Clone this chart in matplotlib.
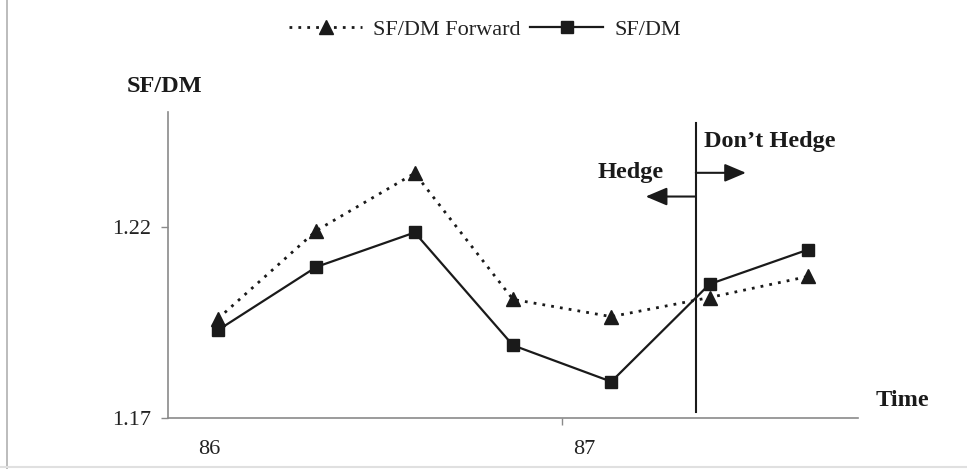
import matplotlib
matplotlib.use("Agg")
import matplotlib.pyplot as plt
from matplotlib.lines import Line2D
import numpy as np

# ---- data ----
periods = [0, 1, 2, 3, 4, 5, 6]
sfdm_forward = [1.196, 1.219, 1.234, 1.201, 1.1965, 1.2015, 1.207]
sfdm_spot = [1.193, 1.2095, 1.2185, 1.189, 1.1795, 1.205, 1.214]
y_ticks = [1.17, 1.22]
y_tick_labels = ["1.17", "1.22"]
year_labels = ["86", "87"]
year_label_pos = [-0.09, 3.72]
year_boundary = [3.5]
decision_x = 4.86

W, H = 967, 469
plt.rcParams['font.family'] = ['Liberation Serif', 'DejaVu Serif']
fig = plt.figure(figsize=(W / 100, H / 100), dpi=100)

def fx(px):
    return px / W

def fy(py):
    return 1 - py / H

ink = '#1a1a1a'
spine_c = '#8a8a8a'

ax = fig.add_axes([fx(168), fy(418), fx(858) - fx(168), fy(112) - fy(418)])
ax.set_xlim(-0.51, 6.51)
ax.set_ylim(1.17, 1.25)

l1, = ax.plot(periods, sfdm_forward, color=ink, lw=2.0, linestyle=(0, (1, 2.2)),
              marker='^', markersize=10.5, markeredgecolor=ink, markerfacecolor=ink,
              label='SF/DM Forward', clip_on=False)
l2, = ax.plot(periods, sfdm_spot, color=ink, lw=1.6, linestyle='-',
              marker='s', markersize=9, markeredgecolor=ink, markerfacecolor=ink,
              label='SF/DM', clip_on=False)

for s in ['top', 'right']:
    ax.spines[s].set_visible(False)
for s in ['left', 'bottom']:
    ax.spines[s].set_color(spine_c)
    ax.spines[s].set_linewidth(1.2)

ax.set_yticks(y_ticks, y_tick_labels)
ax.tick_params(axis='y', length=5, width=1, color=spine_c, pad=7,
               labelsize=16, labelcolor='#222222')
ax.set_xticks(year_boundary, [''] * len(year_boundary))
ax.tick_params(axis='x', which='major', length=5, width=1, color=spine_c)
ax.set_xticks(year_label_pos, year_labels, minor=True)
ax.tick_params(axis='x', which='minor', length=0, pad=16, labelsize=16,
               labelcolor='#222222')

# decision line
ax.plot([decision_x, decision_x], [1.1716, 1.2472], color=ink, lw=1.5, clip_on=False)
arrow_style = '-|>,head_length=1.3,head_width=0.55'
ax.annotate('', xy=(5.37, 1.2341), xytext=(decision_x, 1.2341),
            arrowprops=dict(arrowstyle=arrow_style, color=ink, lw=1.5,
                            shrinkA=0, shrinkB=0),
            annotation_clip=False)
ax.annotate('', xy=(4.35, 1.2279), xytext=(decision_x, 1.2279),
            arrowprops=dict(arrowstyle=arrow_style, color=ink, lw=1.5,
                            shrinkA=0, shrinkB=0),
            annotation_clip=False)

bold = dict(fontsize=17.5, fontweight='bold', color=ink, va='baseline', ha='left')
fig.text(fx(127), fy(92), 'SF/DM', **bold)
fig.text(fx(704), fy(147), 'Don\u2019t Hedge', **bold)
fig.text(fx(598), fy(178), 'Hedge', **bold)
fig.text(fx(876), fy(406), 'Time', **bold)

# legend
leg = fig.legend(handles=[l1, l2], loc='center', bbox_to_anchor=(fx(485), fy(30)),
                 ncol=2, frameon=False, fontsize=16, handlelength=3.3,
                 handletextpad=0.5, columnspacing=0.4, borderpad=0)
for t in leg.get_texts():
    t.set_color('#222222')

# partial frame around figure
fig.add_artist(Line2D([fx(6.5), fx(6.5)], [0, 1], color='#b0b0b0', lw=1.2))
fig.add_artist(Line2D([0, 1], [fy(466.5), fy(466.5)], color='#e0e0e0', lw=1.5))

fig.savefig('out.png', dpi=100)
